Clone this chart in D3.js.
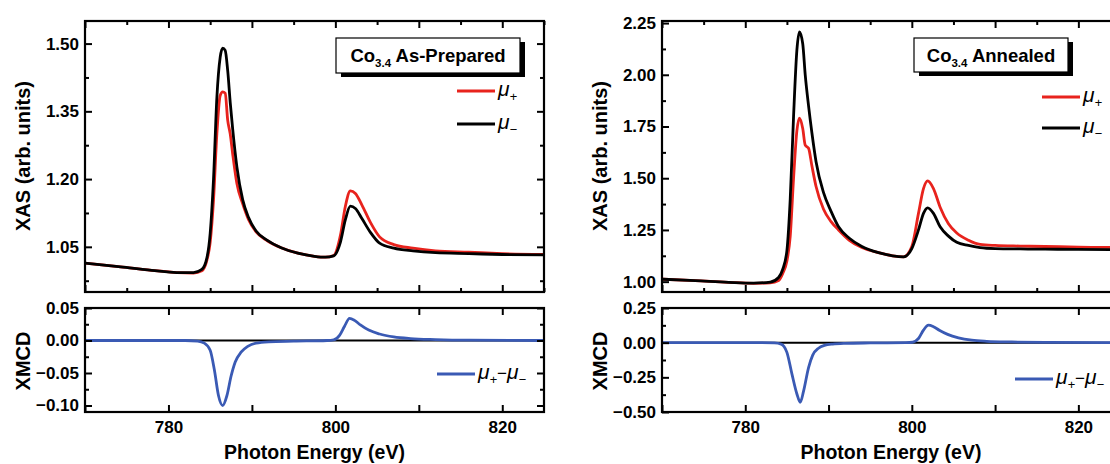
<!DOCTYPE html>
<html><head><meta charset="utf-8">
<script src="https://cdn.jsdelivr.net/npm/d3@7"></script>
<style>
body{margin:0;background:#fff}
svg{display:block}
text{font-family:"Liberation Sans",Arial,sans-serif}
</style>
</head><body>
<svg id="c" width="1110" height="464"></svg>
<script>
// ---------------- data ----------------
const energyAsPrepared = [770,774,778,781,783,784,784.6,785.0,785.4,785.8,786.2,786.5,786.8,787.1,787.4,787.7,788.2,788.9,789.6,790.5,791.8,793.5,795.5,797.5,798.8,799.8,800.6,801.2,801.8,802.4,803.2,804.2,805.3,807,809.3,812,816,820,825];
const muPlusAsPrepared  = [1.014,1.006,0.998,0.993,0.992,0.997,1.02,1.06,1.154,1.30,1.385,1.393,1.390,1.33,1.30,1.255,1.19,1.145,1.11,1.083,1.064,1.048,1.036,1.029,1.027,1.031,1.075,1.14,1.174,1.168,1.142,1.104,1.072,1.055,1.047,1.041,1.038,1.035,1.033];
const muMinusAsPrepared = [1.014,1.006,0.998,0.993,0.993,1.000,1.025,1.08,1.20,1.38,1.47,1.49,1.485,1.44,1.37,1.31,1.227,1.154,1.115,1.085,1.065,1.048,1.036,1.029,1.027,1.030,1.060,1.110,1.140,1.135,1.112,1.082,1.058,1.047,1.041,1.037,1.035,1.033,1.032];

const energyAnnealed = [770,774,778,781,783,784,784.5,785.0,785.4,785.8,786.2,786.5,786.9,787.2,787.6,788.0,788.5,789.4,790.3,791.2,792.5,794,796,797.7,799,800,800.8,801.4,801.9,802.6,803.4,804.4,805.4,806.8,808.2,810,813,816,820,825];
const muPlusAnnealed  = [1.012,1.005,0.997,0.992,0.994,1.005,1.04,1.10,1.22,1.50,1.73,1.79,1.74,1.66,1.645,1.56,1.46,1.35,1.29,1.25,1.20,1.165,1.14,1.125,1.12,1.17,1.33,1.45,1.487,1.45,1.36,1.28,1.235,1.20,1.18,1.175,1.172,1.17,1.167,1.165];
const muMinusAnnealed = [1.012,1.005,0.997,0.993,0.998,1.02,1.06,1.15,1.40,1.80,2.12,2.207,2.15,2.00,1.85,1.72,1.58,1.43,1.34,1.265,1.21,1.17,1.14,1.125,1.12,1.16,1.25,1.33,1.357,1.33,1.265,1.22,1.19,1.175,1.165,1.16,1.158,1.157,1.156,1.155];

const energyXmcdAsPrepared = [770,782,783.5,784.3,785.0,785.5,786.0,786.5,787.0,787.5,788.0,788.7,789.5,790.5,792,795,799,799.8,800.5,801.1,801.7,802.3,803,804,805.3,807,809,812,816,825];
const xmcdAsPrepared = [0,0,-0.001,-0.004,-0.015,-0.045,-0.085,-0.100,-0.085,-0.055,-0.033,-0.018,-0.009,-0.004,-0.002,-0.001,0,0.001,0.008,0.022,0.034,0.031,0.024,0.016,0.010,0.0055,0.003,0.0015,0.0005,0];

const energyXmcdAnnealed = [770,782,783.5,784.3,785.0,785.6,786.2,786.6,787.0,787.6,788.1,788.8,789.5,790.5,792,795,799.3,800.1,800.8,801.4,802.0,802.6,803.3,804.3,805.6,807.2,809,812,816,825];
const xmcdAnnealed = [0,0,-0.002,-0.01,-0.07,-0.225,-0.37,-0.43,-0.35,-0.18,-0.09,-0.04,-0.02,-0.01,-0.005,-0.002,0,0.003,0.03,0.09,0.126,0.115,0.09,0.06,0.035,0.018,0.01,0.005,0.002,0];

const xTicksMajor = [770,780,790,800,810,820];
const xTicksMinor = [775,785,795,805,815,825];
const xTickLabels = [780,800,820];

const xasTicksAsPrepared = [1.05,1.20,1.35,1.50];
const xasMinorAsPrepared = [0.975,1.125,1.275,1.425];
const xmcdTicksAsPrepared = [-0.10,-0.05,0.00,0.05];
const xmcdMinorAsPrepared = [-0.075,-0.025,0.025];

const xasTicksAnnealed = [1.00,1.25,1.50,1.75,2.00,2.25];
const xasMinorAnnealed = [1.125,1.375,1.625,1.875,2.125];
const xmcdTicksAnnealed = [-0.50,-0.25,0.00,0.25];
const xmcdMinorAnnealed = [-0.375,-0.125,0.125];

// ---------------- drawing ----------------
const RED = "#e8231d", BLACK = "#000", BLUE = "#3a5ab4";
const svg = d3.select("#c");

function inwardAxes(g, x, y, xMaj, xMin, yMaj, yMin, yFmt, showXLabels) {
  const [x0,x1] = x.range();
  const [yb,yt] = y.range();
  const st = s => s.select(".domain").remove();
  const styl = s => { s.selectAll("line").attr("stroke","#000").attr("stroke-width",2);
                      s.selectAll("text").attr("fill","#000").style("font-size","17px").style("font-weight","bold"); };
  g.append("g").attr("transform",`translate(0,${yb})`)
    .call(d3.axisBottom(x).tickValues(xMaj).tickSize(-7).tickPadding(9)
      .tickFormat(d => showXLabels && xTickLabels.includes(d) ? d3.format("d")(d) : ""))
    .call(st).call(styl);
  if (xMin) g.append("g").attr("transform",`translate(0,${yb})`)
    .call(d3.axisBottom(x).tickValues(xMin).tickSize(-4).tickFormat(""))
    .call(st).call(styl);
  g.append("g").attr("transform",`translate(0,${yt})`)
    .call(d3.axisTop(x).tickValues(xMaj).tickSize(-7).tickFormat(""))
    .call(st).call(styl);
  if (xMin) g.append("g").attr("transform",`translate(0,${yt})`)
    .call(d3.axisTop(x).tickValues(xMin).tickSize(-4).tickFormat(""))
    .call(st).call(styl);
  g.append("g").attr("transform",`translate(${x0},0)`)
    .call(d3.axisLeft(y).tickValues(yMaj).tickSize(-7).tickPadding(6).tickFormat(yFmt))
    .call(st).call(styl);
  g.append("g").attr("transform",`translate(${x0},0)`)
    .call(d3.axisLeft(y).tickValues(yMin).tickSize(-4).tickFormat(""))
    .call(st).call(styl);
  g.append("g").attr("transform",`translate(${x1},0)`)
    .call(d3.axisRight(y).tickValues(yMaj).tickSize(-7).tickFormat(""))
    .call(st).call(styl);
  g.append("g").attr("transform",`translate(${x1},0)`)
    .call(d3.axisRight(y).tickValues(yMin).tickSize(-4).tickFormat(""))
    .call(st).call(styl);
  g.append("rect").attr("x",x0).attr("y",yt).attr("width",x1-x0).attr("height",yb-yt)
    .attr("fill","none").attr("stroke","#000").attr("stroke-width",2.2);
}

function drawLine(g, x, y, xs, ys, color, w) {
  const pts = xs.map((e,i)=>[e, ys[i]]);
  g.append("path").datum(pts)
    .attr("d", d3.line().x(d=>x(d[0])).y(d=>y(d[1])).curve(d3.curveMonotoneX))
    .attr("fill","none").attr("stroke",color).attr("stroke-width",w)
    .attr("stroke-linejoin","round").attr("stroke-linecap","round");
}

function mu(t, sub, x, y) {
  const tx = t.append("text").attr("x",x).attr("y",y).attr("fill","#000");
  tx.append("tspan").text("μ").style("font-style","italic").style("font-size","21px");
  tx.append("tspan").text(sub).style("font-style","italic").style("font-size","13px").attr("dy",5);
  return tx;
}

function panelSet(cfg) {
  const x = d3.scaleLinear().domain([770,825]).range(cfg.xr);
  const yTop = d3.scaleLinear().domain(cfg.topDomain).range([292,21]);
  const yBot = d3.scaleLinear().domain(cfg.botDomain).range([412,308]);
  const g = svg.append("g");

  const cid = "clip" + cfg.id;
  svg.append("clipPath").attr("id",cid+"t").append("rect")
    .attr("x",cfg.xr[0]).attr("y",21).attr("width",cfg.xr[1]-cfg.xr[0]).attr("height",271);
  svg.append("clipPath").attr("id",cid+"b").append("rect")
    .attr("x",cfg.xr[0]).attr("y",308).attr("width",cfg.xr[1]-cfg.xr[0]).attr("height",104);

  const gt = g.append("g").attr("clip-path",`url(#${cid}t)`);
  drawLine(gt, x, yTop, cfg.E, cfg.plus, RED, 2.8);
  drawLine(gt, x, yTop, cfg.E, cfg.minus, BLACK, 2.8);

  const gb = g.append("g").attr("clip-path",`url(#${cid}b)`);
  gb.append("line").attr("x1",x(770)).attr("x2",x(825)).attr("y1",yBot(0)).attr("y2",yBot(0))
    .attr("stroke","#000").attr("stroke-width",2);
  drawLine(gb, x, yBot, cfg.Ex, cfg.xmcd, BLUE, 2.8);

  inwardAxes(g, x, yTop, xTicksMajor, xTicksMinor, cfg.topTicks, cfg.topMinor, d3.format(".2f"), false);
  inwardAxes(g, x, yBot, xTicksMajor, null, cfg.botTicks, cfg.botMinor, d3.format(".2f"), true);

  const xc = (cfg.xr[0]+cfg.xr[1])/2;
  g.append("text").attr("x",xc).attr("y",459).attr("text-anchor","middle")
    .style("font-size","19.5px").style("font-weight","bold").text("Photon Energy (eV)");
  g.append("text").attr("transform",`translate(${cfg.ytX},156) rotate(-90)`).attr("text-anchor","middle")
    .style("font-size","20px").style("font-weight","bold").text("XAS (arb. units)");
  g.append("text").attr("transform",`translate(${cfg.ytX},361) rotate(-90)`).attr("text-anchor","middle")
    .style("font-size","20px").style("font-weight","bold").text("XMCD");

  const b = cfg.box;
  g.append("rect").attr("x",b[0]+5).attr("y",b[1]+4).attr("width",b[2]).attr("height",b[3]).attr("fill","#000");
  g.append("rect").attr("x",b[0]).attr("y",b[1]).attr("width",b[2]).attr("height",b[3])
    .attr("fill","#fff").attr("stroke","#000").attr("stroke-width",1.2);
  const tt = g.append("text").attr("x",b[0]+b[2]/2).attr("y",b[1]+24).attr("text-anchor","middle")
    .style("font-weight","bold").style("font-size","18.5px");
  tt.append("tspan").text("Co");
  tt.append("tspan").text("3.4").style("font-size","11.5px").attr("dy",5);
  tt.append("tspan").text(" " + cfg.title).attr("dy",-5);

  const L = cfg.leg;
  g.append("line").attr("x1",L[0]).attr("x2",L[0]+38).attr("y1",L[1]).attr("y2",L[1]).attr("stroke",RED).attr("stroke-width",2.8);
  mu(g, "+", L[0]+41, L[1]+5);
  g.append("line").attr("x1",L[0]).attr("x2",L[0]+38).attr("y1",L[2]).attr("y2",L[2]).attr("stroke",BLACK).attr("stroke-width",2.8);
  mu(g, "−", L[0]+41, L[2]+5);

  const B = cfg.legB;
  g.append("line").attr("x1",B[0]).attr("x2",B[0]+38).attr("y1",B[1]).attr("y2",B[1]).attr("stroke",BLUE).attr("stroke-width",2.8);
  const tb = mu(g, "+", B[0]+41, B[1]+5);
  tb.append("tspan").text("−").style("font-size","17px").attr("dy",-5);
  tb.append("tspan").text("μ").style("font-style","italic").style("font-size","21px");
  tb.append("tspan").text("−").style("font-style","italic").style("font-size","13px").attr("dy",5);
}

panelSet({
  id:"L", xr:[85,544], topDomain:[0.95,1.55], botDomain:[-0.11,0.05],
  E:energyAsPrepared, plus:muPlusAsPrepared, minus:muMinusAsPrepared,
  Ex:energyXmcdAsPrepared, xmcd:xmcdAsPrepared,
  topTicks:xasTicksAsPrepared, topMinor:xasMinorAsPrepared,
  botTicks:xmcdTicksAsPrepared, botMinor:xmcdMinorAsPrepared,
  ytX:30, box:[336,38,184,35], title:"As-Prepared",
  leg:[457,91,124], legB:[437,374]
});
panelSet({
  id:"R", xr:[662,1120], topDomain:[0.95,2.26], botDomain:[-0.5,0.25],
  E:energyAnnealed, plus:muPlusAnnealed, minus:muMinusAnnealed,
  Ex:energyXmcdAnnealed, xmcd:xmcdAnnealed,
  topTicks:xasTicksAnnealed, topMinor:xasMinorAnnealed,
  botTicks:xmcdTicksAnnealed, botMinor:xmcdMinorAnnealed,
  ytX:607, box:[914,38,154,34], title:"Annealed",
  leg:[1042,97,128], legB:[1015,379]
});
</script>
</body></html>
